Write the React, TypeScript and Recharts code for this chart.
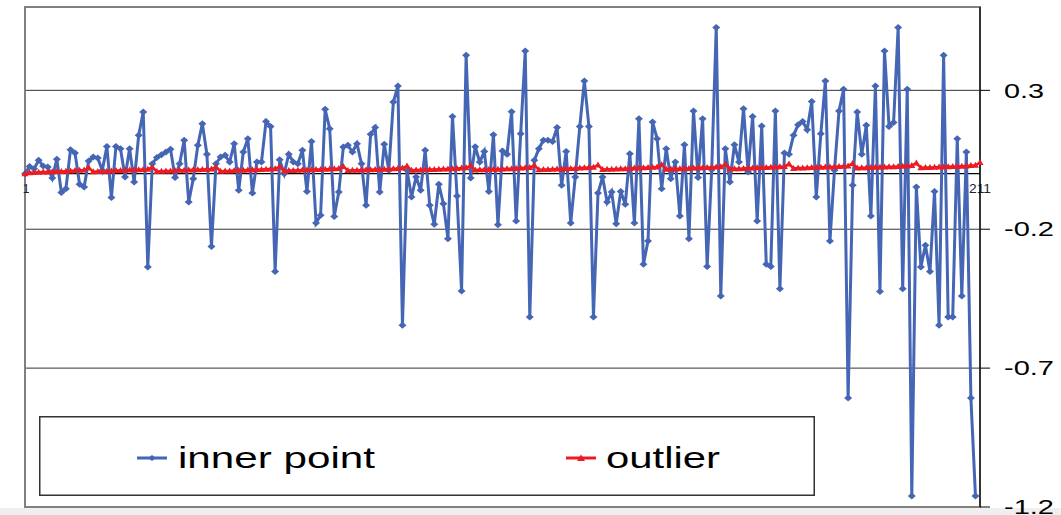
import React from 'react';
import { LineChart, Line, XAxis, YAxis, CartesianGrid, ReferenceLine, ReferenceArea, Legend } from 'recharts';

// blue series, one value per sample (last sample has no inner point)
const innerPoint: (number | null)[] = [
  0.0, 0.026, 0.018, 0.048, 0.028, 0.024, -0.016, 0.052, -0.068, -0.054,
  0.086, 0.074, -0.038, -0.048, 0.046, 0.06, 0.056, 0.012, 0.098, -0.086,
  0.098, 0.09, -0.012, 0.09, -0.03, 0.138, 0.222, -0.336, 0.036, 0.058,
  0.068, 0.078, 0.088, -0.014, 0.036, 0.12, -0.102, -0.018, 0.102, 0.18,
  0.07, -0.262, 0.036, 0.06, 0.066, 0.042, 0.108, -0.06, 0.078, 0.126,
  -0.07, 0.042, 0.042, 0.188, 0.17, -0.352, 0.05, 0.0, 0.07, 0.042,
  0.036, 0.084, -0.064, 0.116, -0.178, -0.15, 0.232, 0.162, -0.154, -0.066,
  0.096, 0.102, 0.078, 0.108, 0.036, -0.114, 0.142, 0.166, -0.066, 0.106,
  0.012, 0.258, 0.316, -0.546, 0.012, -0.084, -0.012, -0.06, 0.084, -0.114,
  -0.182, -0.038, -0.108, -0.234, 0.206, -0.08, -0.422, 0.426, -0.016, 0.097,
  0.042, 0.08, -0.064, 0.14, -0.184, 0.082, 0.07, 0.223, -0.17, 0.144,
  0.442, -0.516, 0.048, 0.09, 0.12, 0.12, 0.116, 0.166, -0.042, 0.08,
  -0.178, -0.012, 0.17, 0.334, 0.17, -0.516, -0.07, -0.012, -0.102, -0.066,
  -0.18, -0.064, -0.11, 0.072, -0.178, 0.198, -0.326, -0.242, 0.186, 0.126,
  -0.054, 0.09, -0.018, 0.042, -0.152, 0.104, -0.234, 0.226, -0.014, 0.198,
  -0.334, 0.014, 0.526, -0.44, 0.09, -0.03, 0.104, 0.042, 0.234, 0.006,
  0.206, -0.17, 0.172, -0.326, -0.334, 0.226, -0.414, 0.074, 0.07, 0.138,
  0.176, 0.188, 0.158, 0.26, -0.084, 0.144, 0.334, -0.242, 0.012, 0.226,
  0.304, -0.808, -0.042, 0.222, 0.07, 0.174, -0.152, 0.316, -0.424, 0.442,
  0.17, 0.184, 0.526, -0.414, 0.304, -1.16, -0.048, -0.336, -0.258, -0.352,
  -0.064, -0.546, 0.426, -0.516, -0.516, 0.126, -0.44, 0.078, -0.808, -1.16,
  null,
];

// red series, slow sawtooth just above zero
const outlier: number[] = [
  0.0, 0.003, 0.004, 0.005, 0.006, 0.006, 0.007, 0.008, 0.008, 0.009, 0.01, 0.011, 0.012, 0.013, 0.021,
  0.007, 0.008, 0.009, 0.009, 0.01, 0.011, 0.011, 0.012, 0.013, 0.013, 0.014, 0.015, 0.016, 0.023,
  0.008, 0.009, 0.01, 0.01, 0.011, 0.012, 0.012, 0.013, 0.014, 0.014, 0.015, 0.016, 0.017, 0.024,
  0.009, 0.01, 0.01, 0.011, 0.012, 0.012, 0.013, 0.014, 0.014, 0.015, 0.016, 0.017, 0.018, 0.025,
  0.01, 0.011, 0.011, 0.012, 0.013, 0.013, 0.014, 0.015, 0.015, 0.016, 0.017, 0.018, 0.019, 0.026,
  0.011, 0.012, 0.012, 0.013, 0.014, 0.014, 0.015, 0.016, 0.016, 0.017, 0.018, 0.019, 0.02, 0.028,
  0.012, 0.013, 0.013, 0.014, 0.015, 0.015, 0.016, 0.017, 0.017, 0.018, 0.019, 0.02, 0.021, 0.029,
  0.013, 0.014, 0.014, 0.015, 0.016, 0.016, 0.017, 0.018, 0.018, 0.019, 0.02, 0.021, 0.022, 0.03,
  0.014, 0.015, 0.015, 0.016, 0.017, 0.017, 0.018, 0.019, 0.019, 0.02, 0.021, 0.022, 0.023, 0.031,
  0.015, 0.016, 0.016, 0.017, 0.018, 0.018, 0.019, 0.02, 0.02, 0.021, 0.022, 0.023, 0.024, 0.032,
  0.016, 0.017, 0.017, 0.018, 0.019, 0.019, 0.02, 0.021, 0.021, 0.022, 0.023, 0.024, 0.025, 0.034,
  0.017, 0.018, 0.018, 0.019, 0.02, 0.02, 0.021, 0.022, 0.022, 0.023, 0.024, 0.025, 0.026, 0.035,
  0.019, 0.02, 0.02, 0.021, 0.022, 0.022, 0.023, 0.024, 0.024, 0.025, 0.026, 0.027, 0.028, 0.037,
  0.02, 0.021, 0.021, 0.022, 0.023, 0.023, 0.024, 0.025, 0.025, 0.026, 0.027, 0.028, 0.029, 0.038,
  0.021, 0.022, 0.022, 0.023, 0.024, 0.024, 0.025, 0.026, 0.026, 0.027, 0.028, 0.029, 0.03, 0.04,
];

const yTicks = [-1.2, -0.7, -0.2, 0.3];
const yTickLabels = ['-1.2', '-0.7', '-0.2', '0.3'];
const xEndLabels = ['1', '211'];

const data = outlier.map((o, i) => ({ n: i + 1, inner: innerPoint[i], outlier: o }));

const BLUE = '#4466b4';
const RED = '#ec1c24';
const FONT = '"Liberation Sans", Arial, sans-serif';

const Diamond = (props: any) => {
  const { cx, cy, index } = props;
  if (cx == null || cy == null) return <g key={`dm-${index}`} />;
  return (
    <path
      key={`dm-${index}`}
      d={`M${cx - 4},${cy}L${cx},${cy - 3.5}L${cx + 4},${cy}L${cx},${cy + 3.5}Z`}
      fill={BLUE}
    />
  );
};

const Triangle = (props: any) => {
  const { cx, cy, index } = props;
  if (cx == null || cy == null) return <g key={`tr-${index}`} />;
  return <path key={`tr-${index}`} d={`M${cx - 3.5},${cy + 2.5}L${cx},${cy - 3.5}L${cx + 3.5},${cy + 2.5}Z`} fill={RED} />;
};

// right-hand tick labels are drawn wide, as in the source picture
const YTick = (props: any) => {
  const { x, y, payload } = props;
  const idx = yTicks.indexOf(payload.value);
  const label = idx >= 0 ? yTickLabels[idx] : String(payload.value);
  const len = label.startsWith('-') ? 50 : 40;
  return (
    <text x={x + 12} y={y} dy="0.36em" fontSize={20} fontFamily={FONT} fill="#000" textLength={len} lengthAdjust="spacingAndGlyphs">
      {label}
    </text>
  );
};

const ZeroLabels = (props: any) => {
  const vb = props.viewBox || {};
  const x0 = vb.x ?? 0;
  const y0 = vb.y ?? 0;
  const w = vb.width ?? 0;
  return (
    <g fontFamily={FONT} fontSize={12} fill="#222">
      <text x={x0 + 1} y={y0 + 15} dy="0.36em" textAnchor="middle">{xEndLabels[0]}</text>
      <text x={x0 + w} y={y0 + 15} dy="0.36em" textAnchor="middle" textLength={22} lengthAdjust="spacingAndGlyphs">
        {xEndLabels[1]}
      </text>
    </g>
  );
};

// legend item layout inside the boxed legend
const legendSpots = [
  { line: 98, text: 139, textLen: 197 },
  { line: 527, text: 567, textLen: 114 },
];

const renderLegend = (props: any) => {
  const items = props.payload || [];
  return (
    <svg width={776} height={80} style={{ display: 'block' }}>
      <rect x={0.75} y={0.75} width={774.5} height={78.5} fill="#fff" stroke="#333" strokeWidth={1.5} />
      {items.map((item: any, i: number) => {
        const spot = legendSpots[i];
        const mid = spot.line + 15;
        return (
          <g key={`lg-${i}`}>
            <line x1={spot.line} x2={spot.line + 30} y1={42} y2={42} stroke={item.color} strokeWidth={3} />
            {i === 0 ? (
              <path d={`M${mid - 4},42L${mid},39L${mid + 4},42L${mid},45Z`} fill={item.color} />
            ) : (
              <path d={`M${mid - 4},45L${mid},38.5L${mid + 4},45Z`} fill={item.color} />
            )}
            <text x={spot.text} y={52} fontSize={30} fontFamily={FONT} fill="#000" textLength={spot.textLen} lengthAdjust="spacingAndGlyphs">
              {item.value}
            </text>
          </g>
        );
      })}
    </svg>
  );
};

export default function App() {
  return (
    <div style={{ position: 'absolute', left: 0, top: 0, width: 1061, height: 515, background: '#fff', overflow: 'hidden' }}>
      <div style={{ position: 'absolute', left: 0, top: 508, width: 1061, height: 7, background: '#efefef' }} />
      <div style={{ position: 'absolute', left: 0, top: 0 }}>
        <LineChart width={1061} height={515} data={data} margin={{ top: 7, right: 0, bottom: 8, left: 25 }}>
          <CartesianGrid vertical={false} stroke="#333" strokeWidth={1} />
          <ReferenceArea y1={-1.2} y2={0.6} fill="#fff" fillOpacity={0} stroke="#808080" strokeWidth={2} ifOverflow="visible" />
          <XAxis dataKey="n" hide />
          <YAxis
            orientation="right"
            width={81}
            domain={[-1.2, 0.6]}
            ticks={yTicks}
            interval={0}
            allowDataOverflow
            axisLine={{ stroke: '#000', strokeWidth: 1.2 }}
            tickLine={{ stroke: '#000' }}
            tickSize={10}
            tick={<YTick />}
          />
          <ReferenceLine y={0} stroke="#000" strokeWidth={1.2} label={<ZeroLabels />} />
          <Legend
            layout="vertical"
            align="center"
            verticalAlign="middle"
            content={renderLegend}
            wrapperStyle={{ position: 'absolute', left: 39, top: 416, width: 776, height: 80 }}
          />
          <Line
            type="linear"
            dataKey="inner"
            name="inner point"
            stroke={BLUE}
            strokeWidth={3}
            dot={Diamond}
            activeDot={false}
            isAnimationActive={false}
          />
          <Line
            type="linear"
            dataKey="outlier"
            name="outlier"
            stroke={RED}
            strokeWidth={2.5}
            dot={Triangle}
            activeDot={false}
            isAnimationActive={false}
          />
        </LineChart>
      </div>
    </div>
  );
}
